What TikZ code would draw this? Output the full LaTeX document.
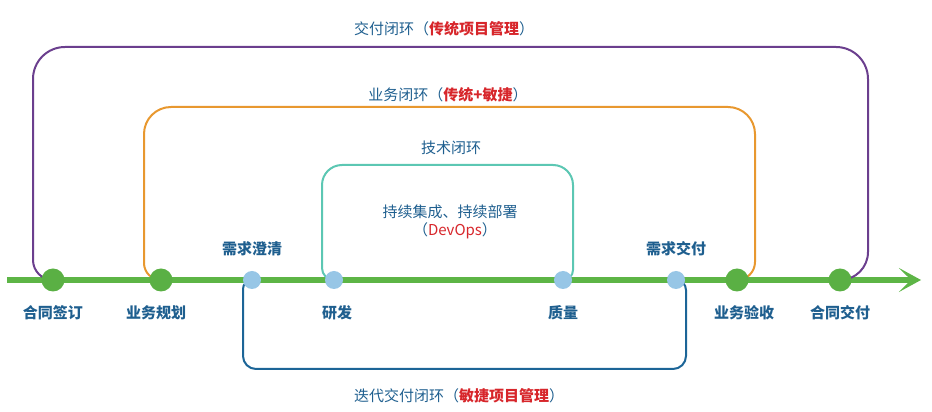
\documentclass[tikz,border=0pt]{standalone}
\usepackage{fontspec}
\setmainfont{Noto Sans CJK SC}
\usetikzlibrary{arrows.meta,backgrounds}
\definecolor{lineg}{HTML}{5DB546}
\definecolor{dotg}{HTML}{5AB044}
\definecolor{dotb}{HTML}{97C6E6}
\definecolor{purp}{HTML}{6B3F8E}
\definecolor{orng}{HTML}{E8982F}
\definecolor{teal2}{HTML}{5CC7B3}
\definecolor{blue2}{HTML}{1C6597}
\definecolor{txtb}{HTML}{1F5F8F}
\definecolor{redt}{HTML}{D7262B}

\begin{document}
\begin{tikzpicture}[x=1pt, y=1pt, node distance={33pt},
	gdot/.style = {circle, fill=dotg, minimum size=23pt, inner sep=0},
	bdot/.style = {circle, fill=dotb, minimum size=18pt, inner sep=0},
	lbl/.style = {text=txtb, font=\fontsize{15}{18}\selectfont\bfseries, inner sep=0},
	ttl/.style = {text=txtb, font=\fontsize{15}{18}\selectfont, inner sep=0},
	loop/.style = {line width=2pt}]
		\useasboundingbox (0,0) rectangle (932,412);
		\coordinate (s) at (7,132);
		\coordinate (e) at (921,132);
		\node[gdot] (1) at (53,132) {};
		\node[gdot] (2) [right of=1, node distance=108pt] {};
		\node[bdot] (3) [right of=2, node distance=91pt] {};
		\node[bdot] (4) [right of=3, node distance=82pt] {};
		\node[bdot] (5) [right of=4, node distance=229pt] {};
		\node[bdot] (6) [right of=5, node distance=113pt] {};
		\node[gdot] (7) [right of=6, node distance=61pt] {};
		\node[gdot] (8) [right of=7, node distance=103pt] {};
		\node[lbl] (l1) [below of=1] {合同签订};
		\node[lbl] (l2) [below of=2, xshift=-5pt] {业务规划};
		\node[lbl] (l3) [above of=3, node distance=31pt] {需求澄清};
		\node[lbl] (l4) [below of=4, xshift=3pt] {研发};
		\node[lbl] (l5) [below of=5] {质量};
		\node[lbl] (l6) [above of=6, node distance=31pt] {需求交付};
		\node[lbl] (l7) [below of=7, xshift=7pt] {业务验收};
		\node[lbl] (l8) [below of=8] {合同交付};
		\node[ttl] (t1) at (444,383) {交付闭环（\textcolor{redt}{\bfseries 传统项目管理}）};
		\node[ttl] (t2) at (448,317) {业务闭环（\textcolor{redt}{\bfseries 传统+敏捷}）};
		\node[ttl] (t3) at (451,264) {技术闭环};
		\node[ttl] (d1) at (450,200) {持续集成、持续部署};
		\node[ttl] (d2) at (455,181) {（\textcolor{redt}{DevOps}）};
		\node[ttl] (t4) at (459,16) {迭代交付闭环（\textcolor{redt}{\bfseries 敏捷项目管理}）};
		\begin{scope}[on background layer]
		\draw[line width=6.5pt, lineg, -{Stealth[length=22pt, width=24pt, inset=12pt]}] (s) -- (e);
		\draw[loop, purp] (1.center) arc[start angle=-90, end angle=-180, radius=20] -- (33,333) arc[start angle=180, end angle=90, radius=32] -- (836,365) arc[start angle=90, end angle=0, radius=32] -- (868,160) arc[start angle=0, end angle=-90, radius=28] -- (8.center);
		\draw[loop, orng] (2.center) arc[start angle=-90, end angle=-180, radius=17] -- (144,278) arc[start angle=180, end angle=90, radius=27] -- (728,305) arc[start angle=90, end angle=0, radius=27] -- (755,150) arc[start angle=0, end angle=-90, radius=18] -- (7.center);
		\draw[loop, teal2] (4.center) arc[start angle=-90, end angle=-180, radius=12] -- (322,227) arc[start angle=180, end angle=90, radius=20] -- (553,247) arc[start angle=90, end angle=0, radius=20] -- (573,142) arc[start angle=0, end angle=-90, radius=10] -- (5.center);
		\draw[loop, blue2] (3.center) arc[start angle=90, end angle=180, radius=9] -- (243,56) arc[start angle=180, end angle=270, radius=13] -- (673,43) arc[start angle=270, end angle=360, radius=13] -- (686,122) arc[start angle=0, end angle=90, radius=10] -- (6.center);
		\end{scope}
	\end{tikzpicture}
\end{document}
